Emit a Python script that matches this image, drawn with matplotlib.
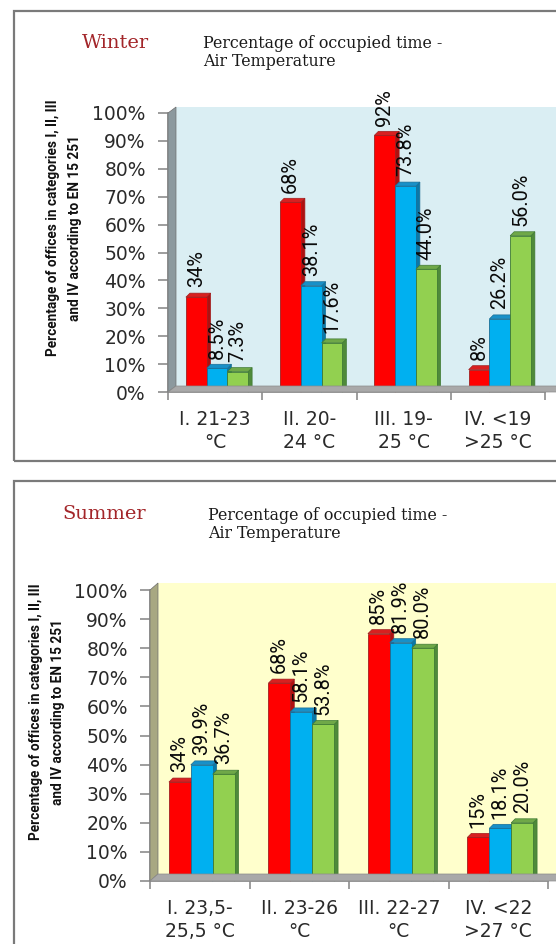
import matplotlib
matplotlib.use("Agg")
import matplotlib.pyplot as plt
from matplotlib.patches import Polygon

# ---------------------------------------------------------------- data
categories_winter = ["I. 21-23\n°C", "II. 20-\n24 °C", "III. 19-\n25 °C", "IV. <19\n>25 °C"]
categories_summer = ["I. 23,5-\n25,5 °C", "II. 23-26\n°C", "III. 22-27\n°C", "IV. <22\n>27 °C"]

winter_red = [34, 68, 92, 8]
winter_blue = [8.5, 38.1, 73.8, 26.2]
winter_green = [7.3, 17.6, 44.0, 56.0]

summer_red = [34, 68, 85, 15]
summer_blue = [39.9, 58.1, 81.9, 18.1]
summer_green = [36.7, 53.8, 80.0, 20.0]

y_ticks = [0, 10, 20, 30, 40, 50, 60, 70, 80, 90, 100]
y_ticklabels = [f"{t}%" for t in y_ticks]

title_winter = "Winter"
title_summer = "Summer"
subtitle = "Percentage of occupied time -\nAir Temperature"
y_label = "Percentage of offices in categories I, II, III\nand IV according to EN 15 251"

NARROW = ["Roboto", "DejaVu Sans"]
SERIF = "DejaVu Serif"

W, H, DPI = 556, 944, 100
fig = plt.figure(figsize=(W / DPI, H / DPI), dpi=DPI)
fig.patch.set_facecolor("white")


def P(x, y):
    """pixel (top-left origin) -> figure fraction"""
    return (x / W, 1 - y / H)


FRONT = {"red": "#FF0000", "blue": "#00B0F0", "green": "#92D050"}
SIDE = {"red": "#B01010", "blue": "#0A78A8", "green": "#4F8A3A"}
TOP = {"red": "#D82020", "blue": "#1890C8", "green": "#6FA848"}
EDGE = {"red": "#A02020", "blue": "#1A6E96", "green": "#3F7A34"}


def draw_panel(box, ax_px, depth, wall_color, side_color, cats, series,
               title, title_xy, sub_xy, ylab_xy):
    bx0, by0, by1 = box
    # frame around the panel
    frame_pts = [P(bx0, by1), P(bx0, by0), P(W + 5, by0), P(W + 5, by1)]
    fig.add_artist(Polygon(frame_pts, closed=True, fill=False, edgecolor="#7A7A7A",
                           linewidth=1.6, transform=fig.transFigure))

    x0, x1, yz, yh = ax_px
    ddx, ddy = depth
    ax = fig.add_axes([x0 / W, 1 - yz / H, (x1 - x0) / W, (yz - yh) / H])
    ax.patch.set_visible(False)

    # back wall, side wall, floor
    fig.add_artist(Polygon([P(x0 + ddx, yz + ddy), P(x0 + ddx, yh + ddy),
                            P(W + 5, yh + ddy), P(W + 5, yz + ddy)],
                           closed=True, facecolor=wall_color, edgecolor="none",
                           transform=fig.transFigure, zorder=0))
    fig.add_artist(Polygon([P(x0, yz), P(x0, yh), P(x0 + ddx, yh + ddy),
                            P(x0 + ddx, yz + ddy)],
                           closed=True, facecolor=side_color, edgecolor="#6E6E6E",
                           linewidth=0.5, transform=fig.transFigure, zorder=0.5))
    fig.add_artist(Polygon([P(x0, yz), P(x0 + ddx, yz + ddy), P(W + 5, yz + ddy),
                            P(W + 5, yz)],
                           closed=True, facecolor="#A9A9A9", edgecolor="#8A8A8A",
                           linewidth=0.5, transform=fig.transFigure, zorder=0.5))

    ax.set_xlim(0, 4)
    ax.set_ylim(0, 100)
    px_x = (x1 - x0) / 4.0
    px_y = (yz - yh) / 100.0
    bdx, bdy = 4.0 / px_x, 4.0 / px_y

    width = 0.22
    offsets = [-0.22, 0.0, 0.22]
    centers = [i + 0.52 for i in range(4)]
    z = 2
    for i, c in enumerate(centers):
        for (name, vals, fmt), off in zip(series, offsets):
            v = vals[i]
            xl = c + off - width / 2
            xr = xl + width
            ax.bar(xl, v, width=width, align="edge", color=FRONT[name],
                   edgecolor=EDGE[name], linewidth=0.6, zorder=z)
            ax.add_patch(Polygon([(xr, 0), (xr, v), (xr + bdx, v + bdy), (xr + bdx, bdy)],
                                 closed=True, facecolor=SIDE[name], edgecolor=EDGE[name],
                                 linewidth=0.5, zorder=z - 0.1, clip_on=False))
            ax.add_patch(Polygon([(xl, v), (xr, v), (xr + bdx, v + bdy), (xl + bdx, v + bdy)],
                                 closed=True, facecolor=TOP[name], edgecolor=EDGE[name],
                                 linewidth=0.5, zorder=z - 0.1, clip_on=False))
            z += 1
    for i, c in enumerate(centers):
        for (name, vals, fmt), off in zip(series, offsets):
            v = vals[i]
            ax.annotate(fmt.format(v), (c + off, v), xytext=(0, 7),
                        textcoords="offset points", rotation=90, ha="center",
                        va="bottom", fontsize=14.3, family=NARROW,
                        color="#0A0A0A", zorder=40, annotation_clip=False)

    # axes styling
    for s in ["top", "right"]:
        ax.spines[s].set_visible(False)
    ax.spines["left"].set_color("#8C8C8C")
    ax.spines["bottom"].set_color("#8C8C8C")
    ax.spines["left"].set_linewidth(1.2)
    ax.spines["bottom"].set_linewidth(1.2)
    ax.set_yticks(y_ticks)
    ax.set_yticklabels(y_ticklabels, fontsize=13.5, color="#2A2A2A", family="DejaVu Sans")
    ax.tick_params(axis="y", length=7, width=1.2, color="#8C8C8C", pad=9)
    ax.set_xticks([0, 1, 2, 3, 4])
    ax.set_xticklabels([])
    ax.tick_params(axis="x", which="major", length=6, width=1.2, color="#8C8C8C")
    ax.set_xticks([i + 0.5 for i in range(4)], minor=True)
    ax.set_xticklabels(cats, minor=True, fontsize=13.5, color="#2A2A2A",
                       family="DejaVu Sans", linespacing=1.25)
    ax.tick_params(axis="x", which="minor", length=0, pad=13)

    # titles
    fig.text(*P(*title_xy), title, family=SERIF, fontsize=14, color="#A3262A",
             ha="left", va="center")
    fig.text(*P(*sub_xy), subtitle, family=SERIF, fontsize=11.4, color="#1A1A1A",
             ha="left", va="top", linespacing=1.05)
    fig.text(*P(*ylab_xy), y_label, family=NARROW, fontweight="bold",
             fontsize=9.8, rotation=90, ha="center", va="center", multialignment="center",
             color="#111111", linespacing=1.7)
    return ax


draw_panel(box=(14, 11, 461), ax_px=(168, 545, 392, 113), depth=(8, -6),
           wall_color="#DAEEF3", side_color="#8C999E", cats=categories_winter,
           series=[("red", winter_red, "{:.0f}%"), ("blue", winter_blue, "{:.1f}%"),
                   ("green", winter_green, "{:.1f}%")],
           title=title_winter, title_xy=(82, 43), sub_xy=(203, 35), ylab_xy=(64, 228))

draw_panel(box=(14, 481, 960), ax_px=(150, 548, 881, 590), depth=(8, -7),
           wall_color="#FFFFCC", side_color="#A8A882", cats=categories_summer,
           series=[("red", summer_red, "{:.0f}%"), ("blue", summer_blue, "{:.1f}%"),
                   ("green", summer_green, "{:.1f}%")],
           title=title_summer, title_xy=(62, 514), sub_xy=(208, 507), ylab_xy=(47, 712))

fig.savefig("out.png", dpi=DPI, facecolor="white")
